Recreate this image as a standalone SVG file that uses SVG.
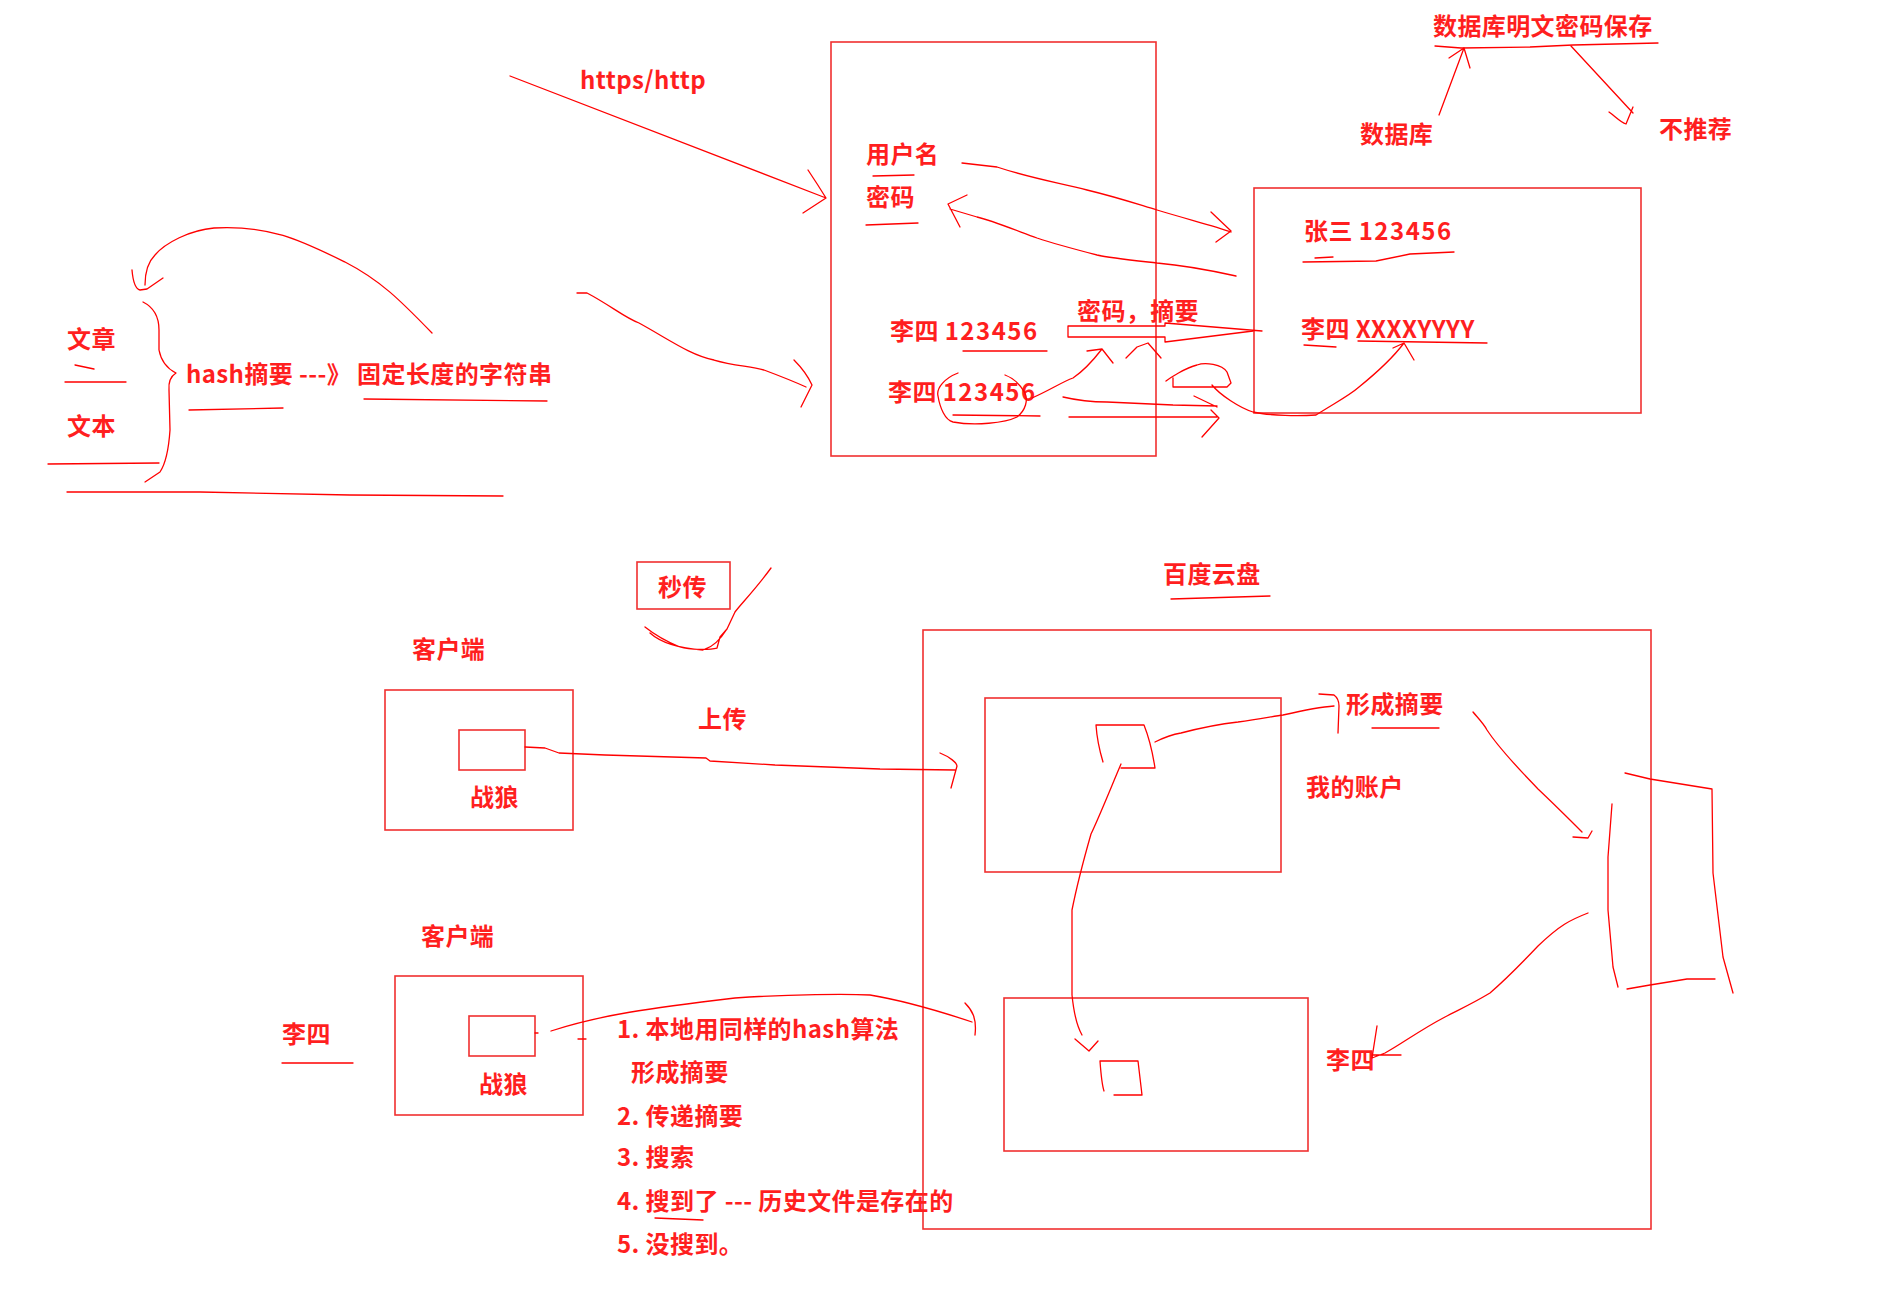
<svg xmlns="http://www.w3.org/2000/svg" width="1902" height="1298" viewBox="0 0 1902 1298">
<style>
.t{font-family:"Noto Sans CJK SC","Liberation Sans",sans-serif;font-weight:bold;font-size:24px;fill:#ff1f1f;letter-spacing:0.4px}
.d{letter-spacing:1.5px}
.s{fill:none;stroke:#ff0000;stroke-width:1.3;stroke-linecap:round;stroke-linejoin:round}
.b{fill:none;stroke:#f03030;stroke-width:1.6}
</style>
<rect width="1902" height="1298" fill="#ffffff"/>
<g id="hash-note">
<text class="t" x="67" y="348">文章</text>
<text class="t" x="67" y="435">文本</text>
<text class="t" x="186" y="383">hash摘要 ---》 固定长度的字符串</text>
</g>
<g id="login-box">
<rect class="b" x="831" y="42" width="325" height="414"/>
<text class="t" x="866" y="163">用户名</text>
<text class="t" x="866" y="206">密码</text>
<text class="t" x="890" y="340">李四 <tspan class="d">123456</tspan></text>
<text class="t" x="888" y="401">李四 <tspan class="d">123456</tspan></text>
</g>
<g id="https-label"><text class="t" x="580" y="89">https/http</text></g>
<g id="pw-digest-label"><text class="t" x="1077" y="320">密码，摘要</text></g>
<g id="db-box">
<rect class="b" x="1254" y="188" width="387" height="225"/>
<text class="t" x="1304" y="240">张三 <tspan class="d">123456</tspan></text>
<text class="t" x="1301" y="338">李四 XXXXYYYY</text>
</g>
<g id="db-note">
<text class="t" x="1433" y="35">数据库明文密码保存</text>
<text class="t" x="1360" y="143">数据库</text>
<text class="t" x="1659" y="138">不推荐</text>
</g>
<g id="miaochuan"><rect class="b" x="637" y="562" width="93" height="47"/><text class="t" x="658" y="596">秒传</text></g>
<g id="client1">
<text class="t" x="412" y="658">客户端</text>
<rect class="b" x="385" y="690" width="188" height="140"/>
<rect class="b" x="459" y="730" width="66" height="40"/>
<text class="t" x="470" y="806">战狼</text>
</g>
<g id="upload-label"><text class="t" x="698" y="728">上传</text></g>
<g id="cloud">
<text class="t" x="1163" y="583">百度云盘</text>
<rect class="b" x="923" y="630" width="728" height="599"/>
<rect class="b" x="985" y="698" width="296" height="174"/>
<rect class="b" x="1004" y="998" width="304" height="153"/>
<text class="t" x="1346" y="713">形成摘要</text>
<text class="t" x="1306" y="796">我的账户</text>
<text class="t" x="1326" y="1069">李四</text>
</g>
<g id="client2">
<text class="t" x="421" y="945">客户端</text>
<rect class="b" x="395" y="976" width="188" height="139"/>
<rect class="b" x="469" y="1016" width="66" height="40"/>
<text class="t" x="479" y="1093">战狼</text>
<text class="t" x="282" y="1043">李四</text>
</g>
<g id="steps">
<text class="t" x="617" y="1038">1. 本地用同样的hash算法</text>
<text class="t" x="631" y="1081">形成摘要</text>
<text class="t" x="617" y="1125">2. 传递摘要</text>
<text class="t" x="617" y="1166">3. 搜索</text>
<text class="t" x="617" y="1210">4. 搜到了 --- 历史文件是存在的</text>
<text class="t" x="617" y="1253">5. 没搜到。</text>
</g>
<g id="connectors">
<path class="s" d="M75,365 L94,369 M65,382 L126,382 M48,464 L159,463 M67,492 L200,492 L350,495 L503,496 M189,410 L283,408 M364,399 L547,401"/>
<path class="s" d="M143,302 Q159,310 159,330 L159,350 Q162,366 176,373 Q168,378 169,390 L170,430 Q168,460 160,472 L145,482"/>
<path class="s" d="M432,333 C400,300 380,280 345,262 C300,240 270,225 214,228 C190,230 165,243 155,255 C147,263 145,275 145,285 M132,270 C133,282 136,289 140,290 L147,289 L163,278"/>
<path class="s" d="M577,293 L587,293 C610,305 625,318 639,323 C670,340 690,355 714,360 C735,366 750,366 764,370 C780,376 795,382 806,387 M794,360 Q806,372 812,385 L801,407"/>
<path class="s" d="M510,76 L826,198 M808,170 Q818,185 826,198 L803,213"/>
<path class="s" d="M873,176 L914,175 M866,225 L918,223 M963,351 L1047,351 M953,415 L1040,416"/>
<path class="s" d="M962,163 L997,167 C1030,178 1060,183 1087,190 C1120,198 1140,205 1157,210 C1190,220 1215,226 1231,232 M1211,212 L1231,231 L1216,242"/>
<path class="s" d="M1236,276 C1200,268 1180,265 1157,263 C1130,260 1110,258 1097,255 C1070,248 1055,244 1037,238 C1010,228 990,220 977,217 L950,209 M967,195 L948,204 L960,227"/>
<path class="s" d="M1068,326 L1165,326 L1165,323 L1262,331 M1068,326 L1068,337 L1165,337 L1165,342 L1253,331"/>
<path class="s" d="M958,373 C945,378 936,388 938,396 C940,408 945,420 953,422 C975,426 1005,423 1017,417 C1026,410 1028,400 1025,393 C1020,384 1013,378 1005,375"/>
<path class="s" d="M1032,398 C1050,390 1062,382 1073,378 C1085,370 1095,358 1102,349 M1087,351 L1102,349 L1113,363 M1126,358 L1137,347 L1148,343 L1161,358"/>
<path class="s" d="M1063,397 C1080,401 1100,402 1107,402 L1173,405 L1217,406 M1194,396 L1217,407 M1069,417 L1217,417 M1211,410 L1219,418 L1202,437"/>
<path class="s" d="M1166,381 C1170,378 1185,368 1197,365 C1205,362 1222,364 1227,372 L1231,383 L1227,387 L1173,387 L1173,378 M1212,385 C1220,395 1240,408 1253,412 C1270,416 1300,416 1316,415 C1340,400 1350,395 1359,387 C1380,370 1395,355 1404,343 M1393,348 L1404,343 L1414,360"/>
<path class="s" d="M1303,262 L1376,261 L1410,254 L1454,252 M1315,258 L1333,257 M1304,345 L1336,347 M1358,341 L1487,343"/>
<path class="s" d="M1435,46 L1461,48 L1530,47 L1573,45 L1658,43"/>
<path class="s" d="M1439,115 L1464,48 M1449,58 L1464,48 L1470,68"/>
<path class="s" d="M1571,46 L1633,113 M1609,112 C1615,116 1620,122 1626,124 L1633,107"/>
<path class="s" d="M771,568 C755,590 740,605 735,612 L727,629 C720,640 712,647 705,649 M645,627 C655,635 670,643 680,647 C690,650 710,650 717,648 L720,637 L727,629 M650,633 C660,642 675,648 703,650"/>
<path class="s" d="M525,747 L545,748 L559,753 L605,755 L706,758 L710,761 L775,765 L880,769 L955,770 M940,753 C950,757 957,763 957,766 L951,788"/>
<path class="s" d="M551,1031 C600,1015 650,1008 735,998 C790,994 850,994 870,995 C900,1000 930,1008 972,1022 M965,1003 C972,1010 977,1018 975,1035 M535,1033 L538,1033 M578,1039 L586,1039"/>
<path class="s" d="M282,1063 L353,1063 M655,1218 L703,1220 M1171,599 L1270,596 M1372,728 L1439,728"/>
<path class="s" d="M1096,725 L1144,725 C1150,740 1153,755 1155,768 L1121,768 M1096,725 C1097,740 1100,752 1103,762"/>
<path class="s" d="M1155,742 C1165,737 1175,734 1181,733 C1200,728 1220,724 1238,722 C1260,719 1275,716 1283,715 C1305,710 1320,707 1334,706 M1319,694 L1334,695 C1338,698 1339,703 1339,706 L1338,733"/>
<path class="s" d="M1121,764 C1112,785 1100,815 1091,834 C1085,855 1078,880 1072,910 L1072,995 C1074,1015 1078,1028 1082,1035 M1075,1039 L1089,1051 L1098,1041"/>
<path class="s" d="M1100,1061 L1138,1061 L1142,1095 L1114,1095 M1100,1061 C1101,1075 1102,1085 1104,1091"/>
<path class="s" d="M1473,712 C1478,718 1484,724 1487,730 C1500,750 1520,770 1538,789 C1555,805 1570,820 1582,832 M1573,837 L1588,838 L1592,831"/>
<path class="s" d="M1625,773 L1650,779 L1712,789 L1713,873 L1723,957 L1733,993 M1612,804 L1608,857 L1608,910 L1613,967 L1618,987 M1627,989 L1650,985 L1687,979 L1715,979"/>
<path class="s" d="M1588,913 C1570,920 1560,925 1538,946 C1520,965 1505,980 1490,993 C1470,1005 1458,1010 1445,1017 C1420,1030 1400,1045 1385,1053 L1372,1058 M1377,1026 L1372,1058 M1372,1055 L1401,1055"/>
</g>
</svg>
